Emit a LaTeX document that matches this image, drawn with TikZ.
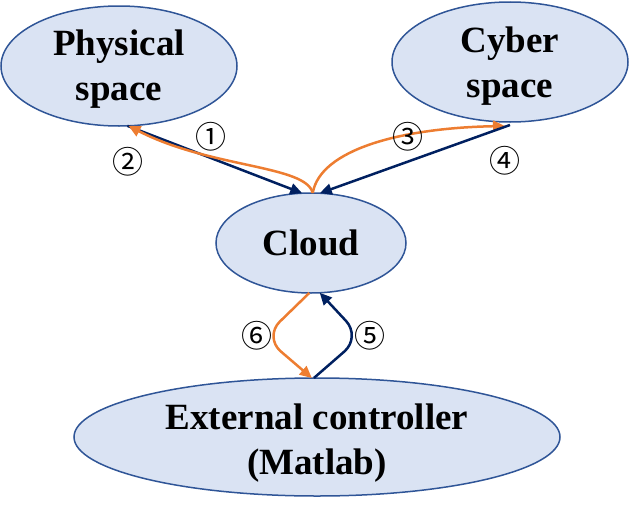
\documentclass[tikz,border=0pt]{standalone}
\usepackage{fontspec}
\setmainfont{Liberation Serif}
\newfontfamily\cjkfont{Noto Sans CJK JP}
\usetikzlibrary{arrows.meta,shapes.geometric,calc}
\definecolor{fillblue}{HTML}{DAE3F3}
\definecolor{edgeblue}{HTML}{2F5597}
\definecolor{navy}{HTML}{002060}
\definecolor{orng}{HTML}{ED7D31}
\begin{document}
\begin{tikzpicture}[x=1pt,y=-1pt,
 blob/.style={ellipse, draw=edgeblue, fill=fillblue, line width=1.5pt, inner sep=0pt, outer sep=0pt},
 lbl/.style={font=\fontsize{37}{45}\selectfont\bfseries, align=center, inner sep=0pt},
 num/.style={font=\cjkfont\fontsize{31}{31}\selectfont, inner sep=0pt},
 navyarr/.style={draw=navy, line width=2.5pt, -{Triangle[length=12pt,width=11pt]}},
 orarr/.style={draw=orng, line width=2.5pt, -{Triangle[length=12pt,width=11pt]}},
]
\useasboundingbox (0,0) rectangle (629,506);
\node[blob, minimum width=236pt, minimum height=120pt] (phys) at (119,66) {};
\node[blob, minimum width=236pt, minimum height=120pt] (cyber) at (510,62) {};
\node[blob, minimum width=190pt, minimum height=100pt] (cloud) at (311,243) {};
\node[blob, minimum width=486pt, minimum height=118pt] (ext) at (317,437) {};
\node[lbl] (tphys) at (119,69) {Physical\\space};
\node[lbl] (tcyber) at (510,66) {Cyber\\space};
\node[lbl] (tcloud) at (311,243) {Cloud};
\node[lbl] (text) at (317,443) {External controller\\(Matlab)};
\draw[navyarr] (phys.-82) -- (cloud.100);
\draw[orarr] (cloud.88) .. controls (306,165) and (210,168) .. (phys.-81);
\draw[orarr] (cloud.88) .. controls (320,150) and (400,128) .. ($(cyber.south)+(-5,4)$);
\draw[navyarr] ($(cyber.south)+(0,3)$) -- (cloud.80);
\coordinate (c6) at (264,337);
\coordinate (c5) at (361,337);
\draw[orarr, rounded corners=22pt] (cloud.-92) -- (c6) -- (ext.95);
\draw[navyarr, rounded corners=22pt] (ext.93) -- (c5) -- (cloud.-80);
\node[num] (n1) at (211,137) {①};
\node[num] (n2) at (128,162) {②};
\node[num] (n3) at (408,137) {③};
\node[num] (n4) at (505,161) {④};
\node[num] (n6) at (257,336) {⑥};
\node[num] (n5) at (370,336) {⑤};
\end{tikzpicture}
\end{document}
